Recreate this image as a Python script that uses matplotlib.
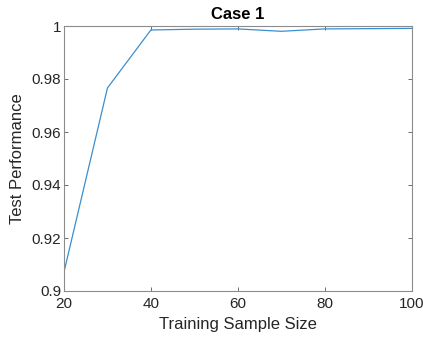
import matplotlib
matplotlib.use("Agg")
import matplotlib.pyplot as plt

sizes = [20, 30, 40, 50, 60, 70, 80, 90, 100]
perf = [0.9072, 0.9766, 0.9985, 0.9988, 0.9989, 0.9980, 0.9989, 0.9990, 0.9991]
xticks = [20, 40, 60, 80, 100]
yticks = [0.9, 0.92, 0.94, 0.96, 0.98, 1.0]
yticklabels = ["0.9", "0.92", "0.94", "0.96", "0.98", "1"]

plt.rcParams['font.family'] = ['Liberation Sans', 'DejaVu Sans']
fig = plt.figure(figsize=(4.23, 3.4), dpi=100)
ax = fig.add_axes([64/423, 49/340, (411.5-64)/423, (291-26)/340])
ax.plot(sizes, perf, color='#3a8fd0', linewidth=0.9)
ax.set_xlim(20, 100)
ax.set_ylim(0.9, 1.0)
ax.set_xticks(xticks)
ax.set_yticks(yticks)
ax.set_yticklabels(yticklabels)
ax.tick_params(direction='in', top=True, right=True, length=3, width=0.6,
               color='#555555', labelcolor='#262626', labelsize=11)
ax.tick_params(axis='x', pad=4)
ax.tick_params(axis='y', pad=2)
for s in ax.spines.values():
    s.set_color('#8c8c8c')
    s.set_linewidth(0.8)
ax.set_xlabel('Training Sample Size', fontsize=12, color='#262626', labelpad=5)
ax.set_ylabel('Test Performance', fontsize=12, color='#262626', labelpad=5)
ax.set_title('Case 1', fontsize=12, fontweight='bold', color='black', pad=5)
fig.savefig('out.png', dpi=100)
